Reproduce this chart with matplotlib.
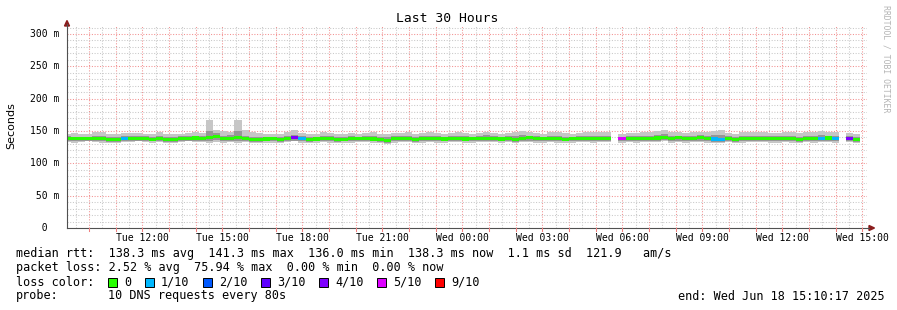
import matplotlib
matplotlib.use("Agg")
import matplotlib.pyplot as plt
import numpy as np
from matplotlib.lines import Line2D
from matplotlib.patches import Polygon, Rectangle

W, H = 897, 310
MONO = "DejaVu Sans Mono"

# --- data: 960 s consolidated bins, values in ms ---
nan = np.nan
median = [
    138.5, 138.2, 138.0, 138.6, 137.8, 138.1, 137.2, 136.8, 138.4, 139.0,
    138.6, 138.8, 137.5, 138.1, 136.9, 137.4, 138.6, 138.9, 139.2, 138.0,
    139.5, 141.3, 138.3, 139.0, 139.7, 138.8, 137.4, 137.1, 137.6, 137.9,
    137.3, 138.2, 139.4, 138.0, 137.0, 137.6, 138.4, 138.0, 137.2, 137.5,
    137.9, 138.3, 138.1, 137.6, 137.0, 136.0, 137.8, 138.3, 138.5, 137.4,
    137.9, 138.8, 138.2, 137.7, 138.6, 139.1, 137.6, 137.9, 138.5, 138.7,
    138.2, 137.6, 138.0, 137.4, 138.9, 139.4, 138.2, 137.8, 138.4, 138.0,
    137.5, 137.9, 138.4, 138.7, 138.2, 139.0, 138.5, nan, 138.0, 138.3,
    137.9, 138.4, 138.8, 139.2, 139.9, 138.6, 139.3, 138.0, 138.6, 139.5,
    138.2, 137.6, 137.0, 138.8, 137.2, 137.9, 138.4, 138.7, 139.0, 138.1,
    137.8, 138.4, 138.0, 137.4, 138.6, 138.1, 138.9, 139.2, 138.0, nan,
    138.7, 137.3,
]
smoke_hi = [
    146, 147, 146, 145, 148, 148, 146, 146, 147, 147,
    147, 146, 146, 148, 146, 145, 146, 147, 148, 147,
    167, 152, 150, 149, 167, 151, 148, 147, 146, 146,
    146, 148, 151, 147, 146, 146, 148, 147, 146, 146,
    147, 146, 147, 148, 146, 145, 147, 147, 148, 146,
    147, 148, 147, 146, 147, 148, 147, 146, 147, 149,
    147, 146, 147, 149, 150, 148, 147, 146, 149, 148,
    147, 146, 147, 149, 148, 148, 148, nan, 146, 147,
    147, 149, 149, 150, 151, 149, 148, 147, 148, 149,
    149, 150, 151, 147, 146, 148, 149, 149, 148, 147,
    147, 148, 148, 147, 148, 148, 150, 149, 148, nan,
    147, 146,
]
smoke_lo = [
    133, 132, 133, 134, 133, 132, 131, 131, 133, 133,
    134, 133, 132, 133, 131, 132, 133, 134, 133, 133,
    131, 133, 132, 133, 132, 133, 131, 131, 132, 132,
    131, 133, 134, 132, 131, 132, 133, 132, 131, 132,
    132, 133, 133, 132, 131, 130, 132, 133, 133, 132,
    132, 133, 132, 131, 133, 133, 132, 132, 133, 133,
    133, 132, 133, 132, 133, 133, 131, 132, 133, 132,
    132, 132, 133, 133, 132, 133, 133, nan, 132, 133,
    132, 133, 133, 133, 134, 131, 133, 132, 133, 133,
    132, 132, 131, 133, 131, 132, 133, 133, 133, 132,
    132, 133, 132, 131, 133, 132, 133, 133, 132, nan,
    133, 132,
]
inner_hi = [
    142, 141, 141, 141, 142, 143, 140, 140, 142, 142,
    142, 142, 141, 143, 140, 140, 142, 142, 143, 142,
    150, 147, 143, 144, 150, 143, 141, 140, 141, 141,
    141, 142, 144, 142, 140, 141, 142, 142, 141, 141,
    142, 141, 142, 143, 141, 140, 142, 142, 143, 141,
    142, 143, 142, 141, 143, 143, 142, 141, 142, 144,
    142, 141, 142, 143, 144, 143, 142, 141, 143, 142,
    141, 141, 142, 143, 142, 143, 143, nan, 141, 142,
    142, 143, 143, 144, 145, 143, 143, 142, 143, 144,
    143, 144, 144, 142, 141, 142, 143, 143, 143, 142,
    142, 142, 143, 141, 143, 142, 144, 143, 142, nan,
    142, 140,
]
inner_lo = [
    135, 134, 134, 135, 134, 134, 133, 133, 134, 135,
    135, 135, 134, 134, 133, 133, 135, 135, 135, 134,
    135, 136, 134, 135, 135, 135, 133, 133, 134, 134,
    133, 134, 135, 134, 133, 134, 134, 134, 133, 134,
    134, 134, 134, 134, 133, 132, 134, 134, 135, 133,
    134, 135, 134, 134, 135, 135, 134, 134, 134, 135,
    134, 134, 134, 133, 135, 135, 134, 134, 134, 134,
    134, 134, 134, 135, 134, 135, 134, nan, 134, 134,
    134, 134, 135, 135, 136, 134, 135, 134, 134, 135,
    134, 133, 133, 135, 133, 134, 134, 135, 135, 134,
    134, 134, 134, 133, 135, 134, 135, 135, 134, nan,
    135, 133,
]
loss_bins = [8, 32, 33, 78, 91, 92, 106, 108, 110]
loss_counts = [1, 4, 1, 5, 1, 1, 1, 1, 4]

loss_levels = ["0", "1/10", "2/10", "3/10", "4/10", "5/10", "9/10"]
loss_values = [0, 1, 2, 3, 4, 5, 9]
loss_palette = ["#26ff00", "#00b8ff", "#0059ff", "#5e00ff", "#7e00ff", "#dd00ff", "#ff0000"]

x_labels = ["Tue 12:00", "Tue 15:00", "Tue 18:00", "Tue 21:00", "Wed 00:00",
            "Wed 03:00", "Wed 06:00", "Wed 09:00", "Wed 12:00", "Wed 15:00"]
y_ticks = [0, 50, 100, 150, 200, 250, 300]
y_labels = ["  0", " 50 m", "100 m", "150 m", "200 m", "250 m", "300 m"]

# time axis in hours since Tue 09:10:17
SPAN_H = 30.0
FIRST_HOUR = (60 - (10 + 17 / 60)) / 60
BIN_H = 960 / 3600
BIN0 = -0.12


def fx(x):
    return x / W


def fy(y):
    return 1 - y / H


fig = plt.figure(figsize=(W / 100, H / 100), dpi=100)
fig.patch.set_facecolor("white")
ax = fig.add_axes([fx(67), fy(228), 800 / W, 202 / H])
ax.set_xlim(0, SPAN_H)
ax.set_ylim(0, 312.4)
for s in ax.spines.values():
    s.set_visible(False)
ax.set_xticks([])
ax.set_yticks([])

# grid
dots = (0, (1, 1.6))
minor_col, major_col = "#c8c8c8", "#f29090"
for k in range(30):
    ax.axvline(FIRST_HOUR - 0.5 + k, color=minor_col, lw=0.75, ls=dots, zorder=0)
    ax.axvline(FIRST_HOUR + k, color=major_col, lw=0.75, ls=dots, zorder=0)
for v in range(10, 320, 10):
    ax.axhline(v, color=major_col if v % 50 == 0 else minor_col, lw=0.75, ls=dots, zorder=0)

# smoke and median
n = len(median)
left = BIN0 + BIN_H * np.arange(n)
med = np.array(median, dtype=float)
hi = np.array(smoke_hi, dtype=float)
lo = np.array(smoke_lo, dtype=float)
ihi = np.array(inner_hi, dtype=float)
ilo = np.array(inner_lo, dtype=float)
ok = ~np.isnan(med)

ax.bar(left[ok], (hi - lo)[ok], width=BIN_H, bottom=lo[ok], align="edge",
       color="#c6c6c6", lw=0, antialiased=False, zorder=2)
ax.bar(left[ok], (ihi - ilo)[ok], width=BIN_H, bottom=ilo[ok], align="edge",
       color="#969696", lw=0, antialiased=False, zorder=3)

loss = np.zeros(n, dtype=int)
loss[loss_bins] = loss_counts
colors = [loss_palette[loss_values.index(c)] for c in loss]
band = 4.8
ax.bar(left[ok], band, width=BIN_H, bottom=med[ok] - band / 2, align="edge",
       color=[c for c, o in zip(colors, ok) if o], lw=0, antialiased=False, zorder=4)

# axes lines and arrows
axis_col = "#505050"
fig.add_artist(Line2D([fx(67), fx(67)], [fy(228), fy(24)], color=axis_col, lw=0.8))
fig.add_artist(Line2D([fx(67), fx(869)], [fy(228), fy(228)], color=axis_col, lw=0.8))
arrow_col = "#8b1c1c"
fig.add_artist(Polygon([(fx(64.5), fy(26)), (fx(69.5), fy(26)), (fx(67), fy(20.5))],
                       closed=True, color=arrow_col, transform=fig.transFigure))
fig.add_artist(Polygon([(fx(869), fy(225.5)), (fx(869), fy(230.5)), (fx(874.5), fy(228))],
                       closed=True, color=arrow_col, transform=fig.transFigure))

# small tick marks under the x axis
for k in range(30):
    xp = 67 + (FIRST_HOUR + k) / SPAN_H * 800
    fig.add_artist(Line2D([fx(xp), fx(xp)], [fy(228), fy(231)], color="#f08080", lw=0.75))

# tick labels
for i, lab in enumerate(x_labels):
    xp = 67 + (FIRST_HOUR + 2 + 3 * i) / SPAN_H * 800
    fig.text(fx(xp), fy(241), lab, family=MONO, fontsize=7.05, ha="center", va="baseline")
for v, lab in zip(y_ticks, y_labels):
    yp = 228 - v / 312.4 * 202
    fig.text(fx(30), fy(yp), lab, family=MONO, fontsize=7.05, ha="left", va="center")

fig.text(fx(447.5), fy(19), "Last 30 Hours", family=MONO, fontsize=9.4, ha="center", va="center")
fig.text(fx(11), fy(126), "Seconds", family="DejaVu Sans", fontsize=8, rotation=90,
         ha="center", va="center")
fig.text(fx(886), fy(5), "RRDTOOL / TOBI OETIKER", family=MONO, fontsize=5.9, rotation=-90,
         ha="center", va="top", color="#b4b4b4")

# legend block
LF = 8.45
fig.text(fx(16), fy(257.5),
         "median rtt:  138.3 ms avg  141.3 ms max  136.0 ms min  138.3 ms now  1.1 ms sd  121.9   am/s",
         family=MONO, fontsize=LF, va="baseline")
fig.text(fx(16), fy(271.5),
         "packet loss: 2.52 % avg  75.94 % max  0.00 % min  0.00 % now",
         family=MONO, fontsize=LF, va="baseline")
fig.text(fx(16), fy(285.5), "loss color:", family=MONO, fontsize=LF, va="baseline")
sq_x = [108, 145, 203, 261, 319, 377, 435]
for xs, lab, col in zip(sq_x, loss_levels, loss_palette):
    fig.add_artist(Rectangle((fx(xs), fy(286.5)), 8.5 / W, 8.5 / H, transform=fig.transFigure,
                             facecolor=col, edgecolor="black", lw=0.7))
    fig.text(fx(xs + 16), fy(285.5), lab, family=MONO, fontsize=LF, va="baseline")
fig.text(fx(16), fy(299.5), "probe:", family=MONO, fontsize=LF, va="baseline")
fig.text(fx(108), fy(299.5), "10 DNS requests every 80s", family=MONO, fontsize=LF, va="baseline")
fig.text(fx(678), fy(299.5), "end: Wed Jun 18 15:10:17 2025", family=MONO, fontsize=LF,
         va="baseline")

fig.savefig("out.png", dpi=100)
